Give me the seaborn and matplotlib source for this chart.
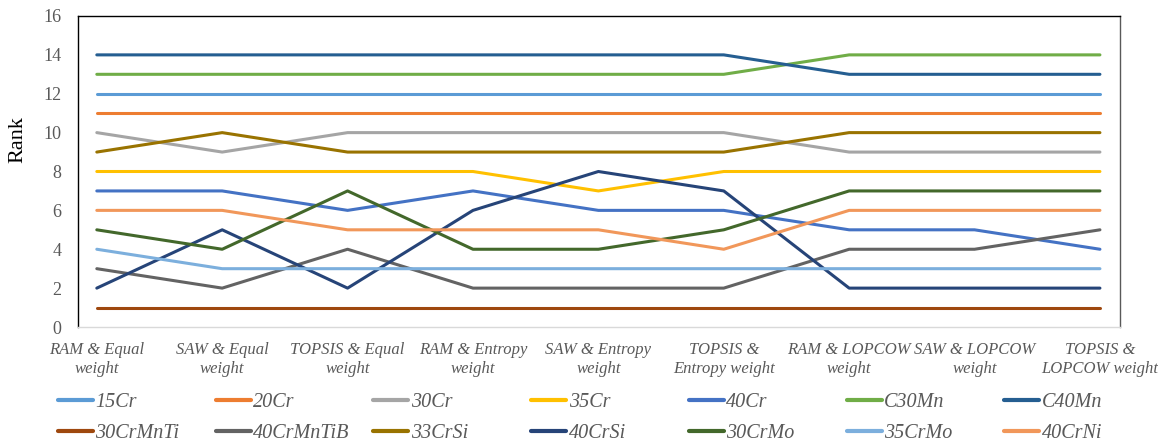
import numpy as np
import pandas as pd
import matplotlib
matplotlib.use("Agg")
import matplotlib.pyplot as plt
import seaborn as sns

methods = [
    "RAM & Equal\nweight", "SAW & Equal\nweight", "TOPSIS & Equal\nweight",
    "RAM & Entropy\nweight", "SAW & Entropy\nweight", "TOPSIS &\nEntropy weight",
    "RAM & LOPCOW\nweight", "SAW & LOPCOW\nweight", "TOPSIS &\nLOPCOW weight",
]

steels = ["15Cr", "20Cr", "30Cr", "35Cr", "40Cr", "C30Mn", "C40Mn",
          "30CrMnTi", "40CrMnTiB", "33CrSi", "40CrSi", "30CrMo", "35CrMo", "40CrNi"]

rank_15Cr      = [12, 12, 12, 12, 12, 12, 12, 12, 12]
rank_20Cr      = [11, 11, 11, 11, 11, 11, 11, 11, 11]
rank_30Cr      = [10, 9, 10, 10, 10, 10, 9, 9, 9]
rank_35Cr      = [8, 8, 8, 8, 7, 8, 8, 8, 8]
rank_40Cr      = [7, 7, 6, 7, 6, 6, 5, 5, 4]
rank_C30Mn     = [13, 13, 13, 13, 13, 13, 14, 14, 14]
rank_C40Mn     = [14, 14, 14, 14, 14, 14, 13, 13, 13]
rank_30CrMnTi  = [1, 1, 1, 1, 1, 1, 1, 1, 1]
rank_40CrMnTiB = [3, 2, 4, 2, 2, 2, 4, 4, 5]
rank_33CrSi    = [9, 10, 9, 9, 9, 9, 10, 10, 10]
rank_40CrSi    = [2, 5, 2, 6, 8, 7, 2, 2, 2]
rank_30CrMo    = [5, 4, 7, 4, 4, 5, 7, 7, 7]
rank_35CrMo    = [4, 3, 3, 3, 3, 3, 3, 3, 3]
rank_40CrNi    = [6, 6, 5, 5, 5, 4, 6, 6, 6]

ranks = [rank_15Cr, rank_20Cr, rank_30Cr, rank_35Cr, rank_40Cr, rank_C30Mn, rank_C40Mn,
         rank_30CrMnTi, rank_40CrMnTiB, rank_33CrSi, rank_40CrSi, rank_30CrMo,
         rank_35CrMo, rank_40CrNi]

colors = ["#5B9BD5", "#ED7D31", "#A5A5A5", "#FFC000", "#4472C4", "#70AD47", "#255E91",
          "#9E480E", "#636363", "#997300", "#264478", "#43682B", "#7CAFDD", "#F1975A"]

df = pd.DataFrame({
    "pos": np.tile(np.arange(len(methods)), len(steels)),
    "Rank": np.concatenate(ranks),
    "Steel": np.repeat(steels, len(methods)),
})

sns.set_style("white")
plt.rcParams["font.family"] = ["Liberation Serif", "DejaVu Serif"]

W, H = 1158, 443
fig = plt.figure(figsize=(W / 100, H / 100), dpi=100)
ax = fig.add_axes([78 / W, 1 - 327 / H, (1120 - 78) / W, (327 - 16) / H])

sns.lineplot(data=df, x="pos", y="Rank", hue="Steel", hue_order=steels,
             palette=colors, linewidth=2.2, ax=ax, legend=True)

ax.set_xlim(-0.15, 8.16)
ax.set_ylim(0, 16)
ax.set_yticks(np.arange(0, 17, 2))
ax.set_xticks(np.arange(len(methods)))
ax.set_xticklabels(methods, fontstyle="italic", fontsize=12, color="#595959", linespacing=1.25)
ax.tick_params(axis="y", labelsize=13, labelcolor="#595959", length=0, pad=12)
ax.tick_params(axis="x", length=0, pad=11)
ax.set_xlabel("")
ax.set_ylabel("Rank", fontsize=16, color="black")
ax.yaxis.set_label_coords((27 - 78) / 1042, (327 - 140) / 311)

for side in ["top", "left"]:
    ax.spines[side].set_color("black")
    ax.spines[side].set_linewidth(1.0)
ax.spines["right"].set_color("#595959")
ax.spines["right"].set_linewidth(1.0)
ax.spines["bottom"].set_color("#D9D9D9")
ax.spines["bottom"].set_linewidth(1.0)

# legend: seven evenly spaced columns, filled row by row
handles, labels = ax.get_legend_handles_labels()
ax.get_legend().remove()
ncols = 7
col_step = 157.7
for c in range(ncols):
    idx = [c, c + ncols]
    leg = fig.legend([handles[i] for i in idx], [labels[i] for i in idx],
                     loc="center left", bbox_to_anchor=((58 + c * col_step) / W, 1 - 418 / H),
                     frameon=False, prop={"style": "italic", "size": 14.5},
                     handlelength=1.74, handletextpad=0.12, borderpad=0,
                     borderaxespad=0, labelspacing=0.55)
    for t in leg.get_texts():
        t.set_color("#595959")
    for h in leg.legend_handles:
        h.set_linewidth(3)

fig.savefig("out.png", dpi=100)
